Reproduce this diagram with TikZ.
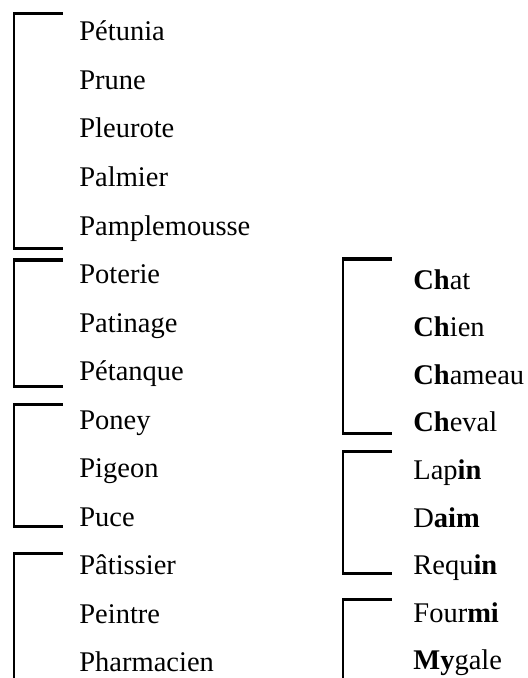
\documentclass[tikz,border=0pt]{standalone}
\usepackage{fontspec}
\setmainfont{Liberation Serif}
\usetikzlibrary{positioning}
\tikzset{%
  word/.style={anchor=base west,inner sep=0pt,font=\fontsize{14.25}{17}\selectfont},
  bar/.style={line width=1.5pt},
  stem/.style={line width=1pt}
}

\begin{document}
\begin{tikzpicture}[x=.5pt,y=-.5pt]
	\useasboundingbox (0,0) rectangle (527,678);

	% left column
	\foreach \n/\t [count=\i from 0] in {petunia/Pétunia,prune/Prune,pleurote/Pleurote,palmier/Palmier,pamplemousse/Pamplemousse,poterie/Poterie,patinage/Patinage,petanque/Pétanque,poney/Poney,pigeon/Pigeon,puce/Puce,patissier/Pâtissier,peintre/Peintre,pharmacien/Pharmacien} {%
		\node[word] (\n) at (79,{41+48.5*\i}) {\t};
	}

	% right column
	\foreach \n/\t [count=\i from 0] in {chat/\textbf{Ch}at,chien/\textbf{Ch}ien,chameau/\textbf{Ch}ameau,cheval/\textbf{Ch}eval,lapin/Lap\textbf{in},daim/D\textbf{aim},requin/Requ\textbf{in},fourmi/Four\textbf{mi},mygale/\textbf{My}gale} {%
		\node[word] (\n) at (413,{289+47.6*\i}) {\t};
	}

	% brackets
	\foreach \x/\ya/\yb in {14/14/249,14/260/386,14/404/526,14/553/678,343/259/433,343/451/573,343/599/678} {%
		\draw[stem] (\x,\ya) -- (\x,\yb);
		\draw[bar] (\x-1,\ya) -- (\x+49,\ya);
	}
	\foreach \x/\yb in {14/249,14/386,14/526,343/433,343/573} {%
		\draw[bar] (\x-1,\yb) -- (\x+49,\yb);
	}
\end{tikzpicture}
\end{document}
